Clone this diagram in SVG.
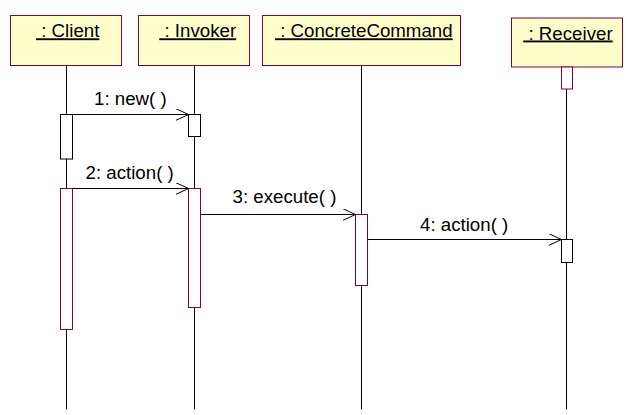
<svg xmlns="http://www.w3.org/2000/svg" width="630" height="415" viewBox="0 0 630 415">
<style>
.obj{fill:#FFFFCC;stroke:#800040;stroke-width:1}
.life{stroke:#000;stroke-width:1;fill:none}
.actk{fill:#fff;stroke:#000;stroke-width:1}
.actr{fill:#fff;stroke:#800040;stroke-width:1}
.name{font-family:"Liberation Sans",Arial,sans-serif;font-size:18.7px;fill:#000;text-decoration:underline;white-space:pre}
.lbl{font-family:"Liberation Sans",Arial,sans-serif;font-size:18.7px;fill:#000;white-space:pre}
.msg{stroke:#000;stroke-width:1;fill:none}
</style>
<defs>
<marker id="open" markerWidth="16" markerHeight="14" refX="13" refY="6" orient="auto" markerUnits="userSpaceOnUse">
<path d="M0,0 L13,6 L0,12" fill="none" stroke="#000" stroke-width="1"/>
</marker>
</defs>
<rect width="630" height="415" fill="#fff"/>
<g id="client">
<line class="life" x1="66.5" y1="65.5" x2="66.5" y2="409.5"/>
<rect class="obj" x="10.5" y="15.5" width="111" height="50"/>
<text class="name" x="36" y="37.3" xml:space="preserve"> : Client</text>
<rect class="actk" x="60.5" y="114.5" width="12" height="44.5"/>
<rect class="actr" x="60.5" y="188.5" width="12" height="141"/>
</g>
<g id="invoker">
<line class="life" x1="194.5" y1="65.5" x2="194.5" y2="409.5"/>
<rect class="obj" x="138.5" y="15.5" width="111" height="50"/>
<text class="name" x="159.3" y="37.3" xml:space="preserve"> : Invoker</text>
<rect class="actk" x="188.5" y="114.5" width="12" height="22"/>
<rect class="actr" x="188.5" y="188.5" width="12" height="119"/>
</g>
<g id="concretecommand">
<line class="life" x1="361.5" y1="65.5" x2="361.5" y2="409.5"/>
<rect class="obj" x="262.5" y="15.5" width="198" height="50"/>
<text class="name" x="275" y="37.3" xml:space="preserve"> : ConcreteCommand</text>
<rect class="actr" x="355.5" y="214.5" width="12" height="71"/>
</g>
<g id="receiver">
<line class="life" x1="566.5" y1="67.5" x2="566.5" y2="409.5"/>
<rect class="obj" x="511.5" y="18" width="111" height="49"/>
<text class="name" x="523.3" y="39.5" xml:space="preserve"> : Receiver</text>
<rect class="actr" x="561.5" y="67" width="11" height="22"/>
<rect class="actk" x="561.5" y="239.5" width="11" height="23"/>
</g>
<g id="connectors">
<line class="msg" x1="72.5" y1="114.5" x2="188.5" y2="114.5" marker-end="url(#open)"/>
<text class="lbl" x="94" y="104.5" xml:space="preserve">1: new( )</text>
<line class="msg" x1="72.5" y1="188.5" x2="188.5" y2="188.5" marker-end="url(#open)"/>
<text class="lbl" x="85.5" y="179.3" xml:space="preserve">2: action( )</text>
<line class="msg" x1="200.5" y1="214.5" x2="355.5" y2="214.5" marker-end="url(#open)"/>
<text class="lbl" x="232.5" y="202.5" xml:space="preserve">3: execute( )</text>
<line class="msg" x1="367.5" y1="239.5" x2="561.5" y2="239.5" marker-end="url(#open)"/>
<text class="lbl" x="420" y="230.5" xml:space="preserve">4: action( )</text>
</g>
</svg>
